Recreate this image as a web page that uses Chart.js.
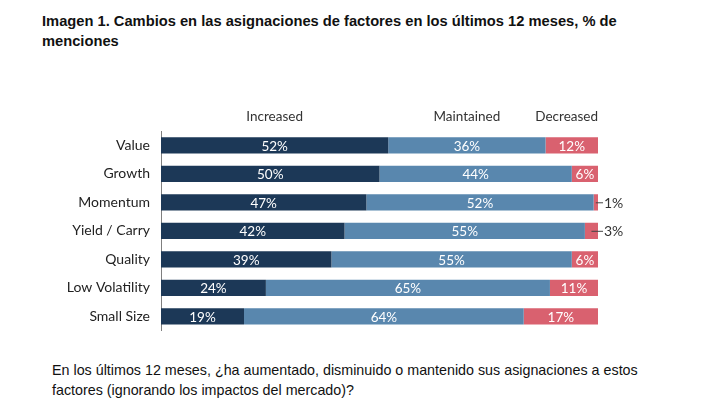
<!DOCTYPE html>
<html lang="es">
<head>
<meta charset="UTF-8">
<title>Cambios en las asignaciones de factores</title>
<script src="https://cdn.jsdelivr.net/npm/chart.js"></script>
<style>
  body { margin: 0; width: 710px; height: 408px; background: #fff; position: relative; overflow: hidden; }
  .title { position: absolute; left: 42px; top: 11px; width: 600px; font: bold 14.7px "Liberation Sans", Arial, sans-serif; line-height: 20px; color: #111; }
  .caption { position: absolute; left: 52px; top: 360px; width: 640px; font: 14.3px "Liberation Sans", Arial, sans-serif; line-height: 20px; color: #111; }
  .chart-box { position: absolute; left: 0; top: 100px; width: 710px; height: 242px; }
</style>
</head>
<body>
<div class="title">Imagen 1. Cambios en las asignaciones de factores en los últimos 12 meses, % de menciones</div>
<div class="chart-box"><canvas id="factors"></canvas></div>
<div class="caption">En los últimos 12 meses, ¿ha aumentado, disminuido o mantenido sus asignaciones a estos factores (ignorando los impactos del mercado)?</div>
<script>
const factors = ['Value', 'Growth', 'Momentum', 'Yield / Carry', 'Quality', 'Low Volatility', 'Small Size'];
const increased = [52, 50, 47, 42, 39, 24, 19];
const maintained = [36, 44, 52, 55, 55, 65, 64];
const decreased = [12, 6, 1, 3, 6, 11, 17];
const seriesNames = ['Increased', 'Maintained', 'Decreased'];
const seriesColors = ['#1c3857', '#5987ae', '#d9616f'];

// draws the percent labels and the column headers
const labelPlugin = {
    id: 'labelPlugin',
    afterDatasetsDraw(chart) {
        const ctx = chart.ctx;
        ctx.save();
        ctx.textBaseline = 'middle';
        chart.data.datasets.forEach((ds, i) => {
            const meta = chart.getDatasetMeta(i);
            meta.data.forEach((bar, j) => {
                const v = ds.data[j];
                const left = Math.min(bar.x, bar.base);
                const right = Math.max(bar.x, bar.base);
                const mid = (left + right) / 2;
                if (v < 5) {
                    // small slice: label outside, leader from the slice middle
                    ctx.strokeStyle = '#444';
                    ctx.lineWidth = 1;
                    ctx.beginPath();
                    ctx.moveTo(mid, bar.y + 0.5);
                    ctx.lineTo(right + 5, bar.y + 0.5);
                    ctx.stroke();
                    ctx.font = '14px Lato, "Open Sans", sans-serif';
                    ctx.fillStyle = '#333';
                    ctx.textAlign = 'left';
                    ctx.fillText(v + '%', right + 6, bar.y + 1);
                } else {
                    ctx.font = '13.5px Lato, "Open Sans", sans-serif';
                    ctx.fillStyle = '#fff';
                    ctx.textAlign = 'center';
                    ctx.fillText(v + '%', mid, bar.y + 1);
                }
            });
        });

        // headers above the first row
        ctx.fillStyle = '#333';
        ctx.font = '13.5px Lato, "Open Sans", sans-serif';
        const headerY = 17;
        [0, 1].forEach(i => {
            const bar = chart.getDatasetMeta(i).data[0];
            ctx.textAlign = 'center';
            ctx.fillText(seriesNames[i], (bar.x + bar.base) / 2, headerY);
        });
        ctx.textAlign = 'right';
        ctx.fillText(seriesNames[2], chart.chartArea.right, headerY);
        ctx.restore();
    }
};

const ctx = document.getElementById('factors').getContext('2d');
new Chart(ctx, {
    type: 'bar',
    data: {
        labels: factors,
        datasets: [increased, maintained, decreased].map((d, i) => ({
            label: seriesNames[i],
            data: d,
            backgroundColor: seriesColors[i],
            borderWidth: 0,
            barPercentage: 0.57,
            categoryPercentage: 1
        }))
    },
    options: {
        indexAxis: 'y',
        responsive: true,
        maintainAspectRatio: false,
        animation: false,
        layout: { padding: { top: 31, bottom: 9, right: 112, left: 0 } },
        scales: {
            x: {
                stacked: true,
                min: 0,
                max: 100,
                display: false
            },
            y: {
                stacked: true,
                grid: { display: false },
                border: { display: true, color: '#7f7f7f', width: 1 },
                ticks: {
                    color: '#222',
                    padding: 3,
                    font: { family: 'Lato, "Open Sans", sans-serif', size: 14 }
                },
                afterFit(scale) { scale.width = 161; }
            }
        },
        plugins: {
            legend: { display: false },
            tooltip: { enabled: false }
        }
    },
    plugins: [labelPlugin]
});
</script>
</body>
</html>
